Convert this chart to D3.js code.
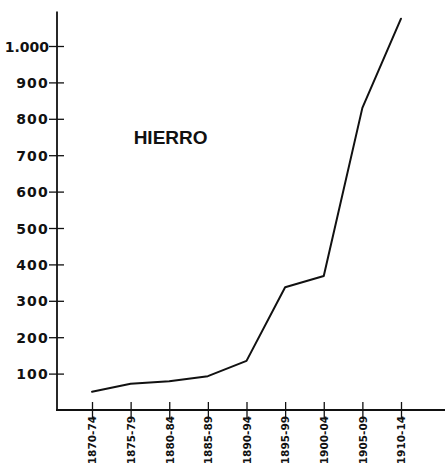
<!DOCTYPE html>
<html>
<head>
<meta charset="utf-8">
<script src="https://cdn.jsdelivr.net/npm/d3@7"></script>
<style>
  html, body { margin: 0; padding: 0; background: #fff; }
  svg { display: block; }
  .tick-y text { font-family: "DejaVu Sans", sans-serif; font-weight: bold; font-size: 14px; letter-spacing: 1.2px; fill: #111; }
  .tick-x text { font-family: "DejaVu Sans", sans-serif; font-weight: bold; font-size: 10.5px; fill: #111; }
  .title { font-family: "Liberation Sans", Arial, sans-serif; font-weight: bold; font-size: 19px; fill: #111; }
</style>
</head>
<body>
<svg id="chart" width="445" height="466"></svg>
<script>
// ── Data ─────────────────────────────────────────────────────────────────────

const periods = ["1870-74", "1875-79", "1880-84", "1885-89", "1890-94",
                 "1895-99", "1900-04", "1905-09", "1910-14"];
const hierro = [50, 72, 79, 93, 135, 337, 368, 830, 1075];
const yTicks = [100, 200, 300, 400, 500, 600, 700, 800, 900, 1000];
const seriesLabel = "HIERRO";

// ── Layout ───────────────────────────────────────────────────────────────────

const W = 445, H = 466;
const axisX = 57;      // y axis position
const yTop = 1095;     // value where the y axis line stops

const svg = d3.select("#chart");

const x = d3.scalePoint().domain(periods).range([92, 401]);
const y = d3.scaleLinear().domain([0, 1000]).range([410, 46]);

const fmt = d3.formatLocale({ decimal: ",", thousands: ".", grouping: [3], currency: ["", ""] }).format(",");

// ── Axes ─────────────────────────────────────────────────────────────────────

// y axis line
svg.append("line")
  .attr("x1", axisX).attr("x2", axisX)
  .attr("y1", y(yTop)).attr("y2", y(0) + 1)
  .attr("stroke", "#111").attr("stroke-width", 1.8);

// x axis line
svg.append("line")
  .attr("x1", axisX - 1).attr("x2", W)
  .attr("y1", y(0)).attr("y2", y(0))
  .attr("stroke", "#111").attr("stroke-width", 1.8);

const gy = svg.append("g")
  .attr("class", "tick-y")
  .attr("transform", `translate(${axisX},0)`)
  .call(d3.axisLeft(y).tickValues(yTicks).tickFormat(fmt).tickSize(8));
gy.select(".domain").remove();
gy.selectAll(".tick line")
  .attr("x1", 7).attr("x2", -8)
  .attr("stroke", "#111").attr("stroke-width", 1.3);
gy.selectAll(".tick text")
  .attr("x", -8)
  .attr("dy", "0.36em")
  .style("letter-spacing", (d) => d >= 1000 ? "0px" : null);

const gx = svg.append("g")
  .attr("class", "tick-x")
  .attr("transform", `translate(0,${y(0)})`)
  .call(d3.axisBottom(x).tickSize(8));
gx.select(".domain").remove();
gx.selectAll(".tick line")
  .attr("y1", -8).attr("y2", 8)
  .attr("stroke", "#111").attr("stroke-width", 1.3);
gx.selectAll(".tick text")
  .attr("transform", "rotate(-90)")
  .attr("text-anchor", "end")
  .attr("x", -6)
  .attr("y", 0)
  .attr("dy", "0.36em");

// ── Series ───────────────────────────────────────────────────────────────────

const line = d3.line()
  .x((d, i) => x(periods[i]))
  .y((d) => y(d));

svg.append("path")
  .datum(hierro)
  .attr("d", line)
  .attr("fill", "none")
  .attr("stroke", "#111")
  .attr("stroke-width", 2)
  .attr("stroke-linejoin", "round")
  .attr("stroke-linecap", "round");

svg.append("text")
  .attr("class", "title")
  .attr("x", x(periods[1]) + 3)
  .attr("y", y(730))
  .text(seriesLabel);
</script>
</body>
</html>
